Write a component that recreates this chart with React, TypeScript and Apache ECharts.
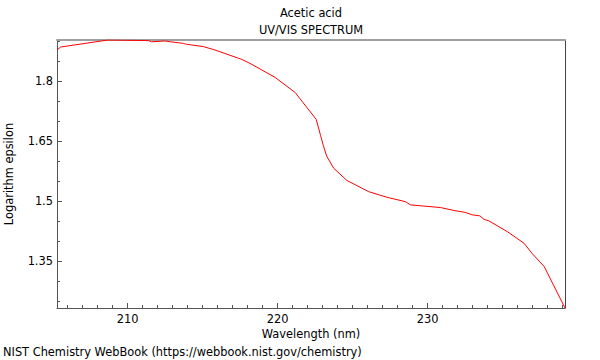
import React, { useEffect, useRef } from "react";
import * as echarts from "echarts";

const chartTitle = "Acetic acid";
const chartSubtitle = "UV/VIS SPECTRUM";
const footer = "NIST Chemistry WebBook (https://webbook.nist.gov/chemistry)";
const xName = "Wavelength (nm)";
const yName = "Logarithm epsilon";

const wavelengths = [
  205.3, 205.55, 208.7, 211.4, 211.6, 212.5, 212.85, 213.73, 213.85, 214.27,
  215.06, 215.82, 217.61, 218.16, 219.83, 221.17, 222.57, 222.86, 223.05,
  223.27, 223.73, 224.62, 226.07, 227.29, 228.52, 228.85, 230.86, 231.75,
  232.53, 232.97, 233.48, 233.75, 234.08, 235.31, 236.42, 236.98, 237.76, 239.15,
];
const logEpsilon = [
  1.8775, 1.885, 1.9025, 1.901, 1.898, 1.9, 1.898, 1.894, 1.8925, 1.89,
  1.886, 1.8775, 1.854, 1.844, 1.809, 1.771, 1.704, 1.664, 1.638,
  1.612, 1.582, 1.551, 1.523, 1.509, 1.498, 1.49, 1.4833, 1.476,
  1.471, 1.465, 1.4625, 1.454, 1.45, 1.423, 1.394, 1.3675, 1.336, 1.232,
];

const xMin = 205.3;
const xMax = 239.15;
const yMin = 1.232;
const yMax = 1.9025;

const xMajorTicks = [210, 220, 230];
const xMinorTicks = [
  206, 207, 208, 209, 211, 212, 213, 214, 215, 216, 217, 218, 219,
  221, 222, 223, 224, 225, 226, 227, 228, 229, 231, 232, 233, 234,
  235, 236, 237, 238, 239,
];
const yMajorTicks = [1.35, 1.5, 1.65, 1.8];
const yMinorTicks = [1.25, 1.3, 1.4, 1.45, 1.55, 1.6, 1.7, 1.75, 1.85, 1.9];

const FONT = "DejaVu Sans";
const FONT_SIZE = 11.4;
const AXIS_COLOR = "#555555";

export default function App() {
  const ref = useRef<HTMLDivElement | null>(null);

  useEffect(() => {
    document.body.style.margin = "0";
    if (!ref.current) return;
    const chart = echarts.init(ref.current, null, { renderer: "svg" });
    const data = wavelengths.map((w, i) => [w, logEpsilon[i]]);
    const textStyle = { color: "#000", fontSize: FONT_SIZE, fontFamily: FONT };

    chart.setOption({
      animation: false,
      backgroundColor: "#ffffff",
      grid: {
        left: 57,
        right: 35,
        top: 40,
        bottom: 52,
        containLabel: false,
        outerBoundsMode: "none",
      },
      xAxis: [
        {
          type: "value",
          position: "bottom",
          min: xMin,
          max: xMax,
          name: xName,
          nameLocation: "middle",
          nameGap: 18,
          nameTextStyle: textStyle,
          axisLine: { show: true, lineStyle: { color: AXIS_COLOR, width: 1 } },
          axisTick: {
            show: true,
            inside: true,
            length: 5,
            customValues: xMajorTicks,
            lineStyle: { color: AXIS_COLOR },
          },
          axisLabel: { ...textStyle, customValues: xMajorTicks, margin: 5 },
          splitLine: { show: false },
        },
        {
          type: "value",
          position: "bottom",
          min: xMin,
          max: xMax,
          axisLine: { show: false },
          axisTick: {
            show: true,
            inside: true,
            length: 3,
            customValues: xMinorTicks,
            lineStyle: { color: AXIS_COLOR },
          },
          axisLabel: { show: false },
          splitLine: { show: false },
        },
        {
          type: "value",
          position: "top",
          min: xMin,
          max: xMax,
          axisLine: { show: true, lineStyle: { color: "#a0a0a0", width: 2 } },
          axisTick: { show: false },
          axisLabel: { show: false },
          splitLine: { show: false },
        },
      ],
      yAxis: [
        {
          type: "value",
          position: "left",
          min: yMin,
          max: yMax,
          name: yName,
          nameLocation: "middle",
          nameGap: 43,
          nameTextStyle: textStyle,
          axisLine: { show: true, lineStyle: { color: AXIS_COLOR, width: 1 } },
          axisTick: {
            show: true,
            inside: true,
            length: 5,
            customValues: yMajorTicks,
            lineStyle: { color: AXIS_COLOR },
          },
          axisLabel: { ...textStyle, customValues: yMajorTicks, margin: 4 },
          splitLine: { show: false },
        },
        {
          type: "value",
          position: "left",
          min: yMin,
          max: yMax,
          axisLine: { show: false },
          axisTick: {
            show: true,
            inside: true,
            length: 3,
            customValues: yMinorTicks,
            lineStyle: { color: AXIS_COLOR },
          },
          axisLabel: { show: false },
          splitLine: { show: false },
        },
        {
          type: "value",
          position: "right",
          min: yMin,
          max: yMax,
          axisLine: { show: true, lineStyle: { color: "#444444", width: 1 } },
          axisTick: { show: false },
          axisLabel: { show: false },
          splitLine: { show: false },
        },
      ],
      series: [
        {
          type: "line",
          xAxisIndex: 0,
          yAxisIndex: 0,
          data,
          showSymbol: false,
          symbol: "none",
          lineStyle: { color: "#ff0000", width: 1 },
          z: 1,
        },
      ],
      graphic: [
        {
          type: "text",
          x: 311,
          y: 13,
          style: {
            text: chartTitle,
            align: "center",
            verticalAlign: "middle",
            fontSize: FONT_SIZE,
            fontFamily: FONT,
            fill: "#000",
          },
        },
        {
          type: "text",
          x: 311,
          y: 30,
          style: {
            text: chartSubtitle,
            align: "center",
            verticalAlign: "middle",
            fontSize: FONT_SIZE,
            fontFamily: FONT,
            fill: "#000",
          },
        },
        {
          type: "text",
          x: 3,
          y: 352,
          style: {
            text: footer,
            align: "left",
            verticalAlign: "middle",
            fontSize: FONT_SIZE,
            fontFamily: FONT,
            fill: "#000",
          },
        },
      ],
    });

    return () => {
      chart.dispose();
    };
  }, []);

  return (
    <div
      ref={ref}
      style={{ position: "absolute", left: 0, top: 0, width: 600, height: 360 }}
    />
  );
}
